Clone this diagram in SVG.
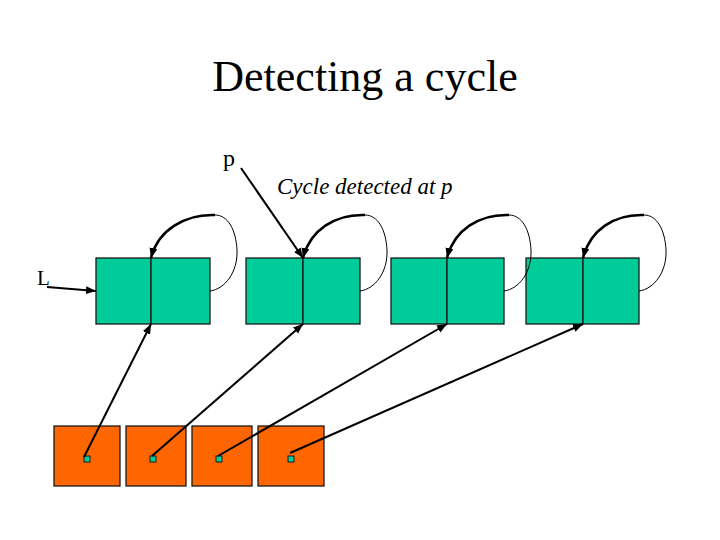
<svg xmlns="http://www.w3.org/2000/svg" width="720" height="540" viewBox="0 0 720 540">
<style>
.cell{fill:#00CC99;stroke:#1a1a1a;stroke-width:1.3}
.box{fill:#FF6600;stroke:#1a1a1a;stroke-width:1.3}
.dot{fill:#00CC99;stroke:#1a1a1a;stroke-width:1}
.arr{fill:none;stroke:#000;stroke-width:2;marker-end:url(#ah)}
.thin{fill:none;stroke:#000;stroke-width:1}
.thick{fill:none;stroke:#000;stroke-width:2.5;marker-end:url(#ah)}
.t{font-family:"Liberation Serif","Times New Roman",serif;fill:#000}
</style>
<defs>
<marker id="ah" markerUnits="userSpaceOnUse" markerWidth="12" markerHeight="10" refX="10" refY="4" orient="auto">
<path d="M0,0 L10,4 L0,8 Z" fill="#000"/>
</marker>
</defs>
<rect width="720" height="540" fill="#fff"/>
<text class="t" x="365" y="91" font-size="44" text-anchor="middle">Detecting a cycle</text>
<text class="t" x="223" y="166" font-size="24">p</text>
<text class="t" x="277" y="194" font-size="23" font-style="italic">Cycle detected at p</text>
<text class="t" x="37" y="285" font-size="21">L</text>

<g id="node1">
<rect class="cell" x="96" y="258" width="55" height="66"/>
<rect class="cell" x="151" y="258" width="59" height="66"/>
</g>
<g id="node2">
<rect class="cell" x="246" y="258" width="57" height="66"/>
<rect class="cell" x="303" y="258" width="57" height="66"/>
</g>
<g id="node3">
<rect class="cell" x="391" y="258" width="56" height="66"/>
<rect class="cell" x="447" y="258" width="57" height="66"/>
</g>
<g id="node4">
<rect class="cell" x="526" y="258" width="57" height="66"/>
<rect class="cell" x="583" y="258" width="56" height="66"/>
</g>
<g id="ptr1">
<rect class="box" x="54" y="426" width="66" height="60"/>
<rect class="dot" x="84" y="456" width="6" height="6"/>
</g>
<g id="ptr2">
<rect class="box" x="126" y="426" width="60" height="60"/>
<rect class="dot" x="150" y="456" width="6" height="6"/>
</g>
<g id="ptr3">
<rect class="box" x="192" y="426" width="60" height="60"/>
<rect class="dot" x="216" y="456" width="6" height="6"/>
</g>
<g id="ptr4">
<rect class="box" x="258" y="426" width="66" height="60"/>
<rect class="dot" x="288" y="456" width="6" height="6"/>
</g>

<g id="connectors">
<path class="arr" d="M47,287 L96,291"/>
<path class="arr" d="M241,168 L303,258"/>
<path class="thin" d="M210,291 C225,289 238,272 237,250 C236,230 228,215 215,215"/>
<path class="thick" d="M215,215 C185,214 158,230 151,258"/>
<path class="thin" d="M360,291 C375,289 388,272 387,250 C386,230 378,215 365,215"/>
<path class="thick" d="M365,215 C335,214 310,230 303,258"/>
<path class="thin" d="M504,291 C519,289 532,272 531,250 C530,230 522,215 509,215"/>
<path class="thick" d="M509,215 C479,214 454,230 447,258"/>
<path class="thin" d="M639,291 C654,289 667,272 666,250 C665,230 657,215 644,215"/>
<path class="thick" d="M644,215 C614,214 590,230 583,258"/>
<path class="arr" d="M84,457 L151,324"/>
<path class="arr" d="M152,456 L303,324"/>
<path class="arr" d="M218,456 L447,324"/>
<path class="arr" d="M290,453 L583,324"/>
</g>
</svg>
